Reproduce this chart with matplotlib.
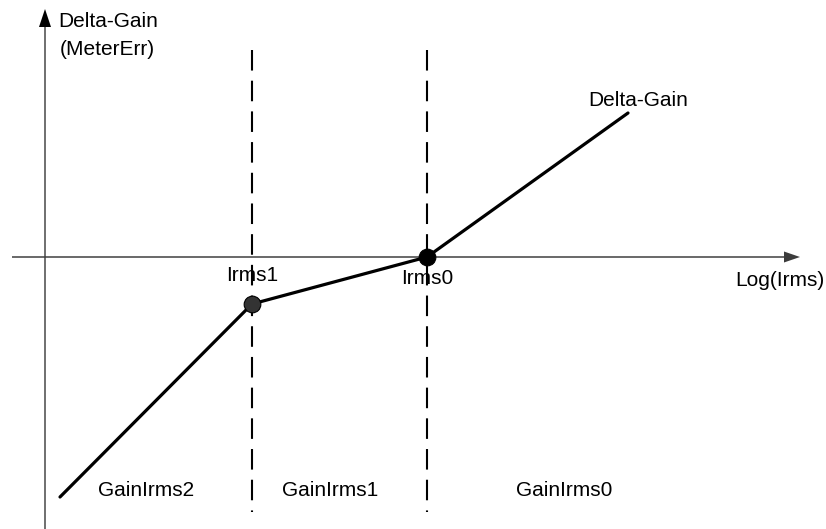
import matplotlib
matplotlib.use("Agg")
import matplotlib.pyplot as plt

plt.rcParams['font.family'] = ['Liberation Sans', 'DejaVu Sans']
plt.rcParams['lines.scale_dashes'] = False

# piecewise delta-gain curve (x: log(Irms), y: delta gain), origin at axes cross
log_irms = [15, 207, 382, 583]
delta_gain = [-240, -47, 0, 144]

# calibration knees Irms1, Irms0
knee_names = ['Irms1', 'Irms0']
knee_x = [207, 382]
knee_y = [-47, 0]
knee_colors = ['#333333', 'black']

# region labels
region_names = ['GainIrms2', 'GainIrms1', 'GainIrms0']
region_x = [101, 285, 519]

fig = plt.figure(figsize=(8.26, 5.29), dpi=100)
ax = fig.add_axes([0, 0, 1, 1])
ax.set_xlim(-45, 781)
ax.set_ylim(-272, 257)
ax.axis('off')

# axes with arrows
ax.arrow(0, -272, 0, 520, width=1.1, head_width=12, head_length=18,
         length_includes_head=True, color='black', lw=0)
ax.arrow(-33, 0, 788, 0, width=1.5, head_width=11, head_length=16,
         length_includes_head=True, color='#3c3c3c', lw=0)

# dashed region boundaries
for bx in knee_x:
    ax.plot([bx, bx], [207, -255], color='black', lw=1.5,
            dashes=(14.8, 7.3), solid_capstyle='butt', zorder=2)

# delta-gain curve
ax.plot(log_irms, delta_gain, color='black', lw=2.3, zorder=3,
        solid_capstyle='round')
for x, y, c in zip(knee_x, knee_y, knee_colors):
    ax.plot(x, y, 'o', ms=12, mfc=c, mec='black', mew=0.8, zorder=4)

fs = 15
ax.text(13, 230, 'Delta-Gain', fontsize=fs, ha='left', va='baseline')
ax.text(15, 202, '(MeterErr)', fontsize=fs, ha='left', va='baseline')
ax.text(643, 151, 'Delta-Gain', fontsize=fs, ha='right', va='baseline')
ax.text(690, -29, 'Log(Irms)', fontsize=fs, ha='left', va='baseline')
ax.text(knee_x[0], -24, knee_names[0], fontsize=fs, ha='center', va='baseline')
ax.text(knee_x[1], -27, knee_names[1], fontsize=fs, ha='center', va='baseline')
for name, x in zip(region_names, region_x):
    ax.text(x, -239, name, fontsize=fs, ha='center', va='baseline')

fig.savefig('out.png', dpi=100)
